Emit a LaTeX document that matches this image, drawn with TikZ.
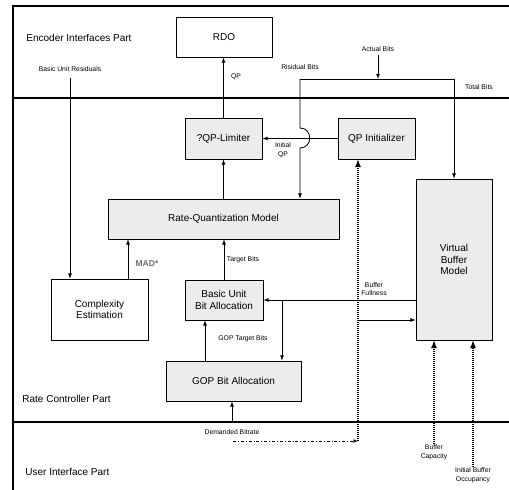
\documentclass[tikz,border=0pt]{standalone}
\usepackage{fontspec}
\setmainfont{Liberation Sans}
\usepackage{tikz}
\usetikzlibrary{calc}

\definecolor{boxgray}{RGB}{236,236,236}
\definecolor{madgray}{RGB}{110,110,110}

\begin{document}
\begin{tikzpicture}[x=1pt, y=-1pt, >=latex, line width=0.8pt,
    box/.style={draw, fill=boxgray, align=center, inner sep=0pt, font=\fontsize{10}{11.5}\selectfont},
    wbox/.style={box, fill=white},
    lbl/.style={align=center, inner sep=0pt, font=\fontsize{6.8}{8.5}\selectfont},
    part/.style={anchor=west, inner sep=0pt, font=\fontsize{10}{12}\selectfont},
    thickdot/.style={dash pattern=on 1.2pt off 0.8pt, line width=1.6pt}]
      \useasboundingbox (0,0) rectangle (509,490);

      % frame and parts
      \draw[line width=1.2pt] (13,490) -- (13,6) -- (509,6);
      \draw[line width=1.2pt] (13,98) -- (509,98);
      \draw[line width=1.2pt] (13,422) -- (509,422);
      \node[part] (encpart) at (26,38) {Encoder Interfaces Part};
      \node[part] (ratepart) at (22,399) {Rate Controller Part};
      \node[part] (userpart) at (25,472) {User Interface Part};

      % blocks
      \node[wbox, minimum width=96, minimum height=40] (rdo) at (224,37) {RDO};
      \node[box, minimum width=77, minimum height=41] (limiter) at (223.5,138.5) {?QP-Limiter};
      \node[box, minimum width=77, minimum height=41] (qpinit) at (376.5,138.5) {QP Initializer};
      \node[box, minimum width=231, minimum height=40] (rqm) at (223.5,219) {Rate-Quantization Model};
      \node[wbox, minimum width=97, minimum height=61] (complexity) at (99.5,309.5) {Complexity\\Estimation};
      \node[box, minimum width=78, minimum height=40] (buba) at (224,300) {Basic Unit\\Bit Allocation};
      \node[box, minimum width=135, minimum height=40] (gop) at (233.5,381) {GOP Bit Allocation};
      \node[box, minimum width=76, minimum height=161] (vbm) at (454,259.5) {Virtual\\Buffer\\Model};

      % labels
      \node[lbl] (burlbl) at (70,69) {Basic Unit Residuals};
      \node[lbl] (qplbl) at (236,77) {QP};
      \node[lbl] (rblbl) at (300,67) {Risidual Bits};
      \node[lbl] (ablbl) at (378,49) {Actual Bits};
      \node[lbl] (tblbl) at (479,87) {Total Bits};
      \node[lbl] (iqlbl) at (283,150) {Initial\\QP};
      \node[inner sep=0pt, text=madgray, font=\fontsize{8.5}{10}\selectfont\bfseries] (madlbl) at (147,264) {MAD*};
      \node[lbl] (tglbl) at (243,260) {Target Bits};
      \node[lbl] (bflbl) at (374,289) {Buffer\\Fullness};
      \node[lbl] (gtlbl) at (243,339) {GOP Target Bits};
      \node[lbl] (dblbl) at (232,432) {Demanded Bitrate};
      \node[lbl] (bclbl) at (434,452) {Buffer\\Capacity};
      \node[lbl] (iolbl) at (473,475) {Initial Buffer\\Occupancy};

      % points
      \coordinate (bur) at (70,78);
      \coordinate (mad) at (128,279);
      \coordinate (rb) at (300,79);
      \coordinate (tb) at (454,79);
      \coordinate (ab) at (378,55);
      \coordinate (bf) at (282,300);
      \coordinate (gt) at (205,361);
      \coordinate (db) at (232,422);
      \coordinate (dd) at (233,441);
      \coordinate (dc) at (358,441);
      \coordinate (dv) at (358,320);

      % connectors
      \draw[->] (limiter.north) -- (limiter.north |- rdo.south);
      \draw[->] (rqm.north) -- (limiter.south);
      \draw[->] (buba.north) -- (buba.north |- rqm.south);
      \draw[->] (mad) -- (mad |- rqm.south);
      \draw[->] (bur) -- (bur |- complexity.north);
      \draw[->] (qpinit.west) -- (qpinit.west -| limiter.east);
      \draw (rb) -- (tb);
      \draw[->] (ab) -- (ab |- rb);
      \draw[->] (rb) -- (300,128) .. controls (313,128) and (313,148) .. (300,148) -- (rb |- rqm.north);
      \draw[->] (tb) -- (tb |- vbm.north);
      \draw[->] (vbm.west |- buba.east) -- (buba.east);
      \draw[->] (bf) -- (bf |- gop.north);
      \draw[->] (gt) -- (gt |- buba.south);
      \draw[->] (db) -- (db |- gop.south);
      \draw[->, dash dot, line width=0.6pt] (dd) -- (dc);
      \draw[->, thickdot] (dc) -- (dc |- qpinit.south);
      \draw[->] (dv) -- (dv -| vbm.west);
      \draw[->, thickdot] (bclbl.north) -- (bclbl.north |- vbm.south);
      \draw[->, thickdot] (iolbl.north) -- (iolbl.north |- vbm.south);
    \end{tikzpicture}
\end{document}
